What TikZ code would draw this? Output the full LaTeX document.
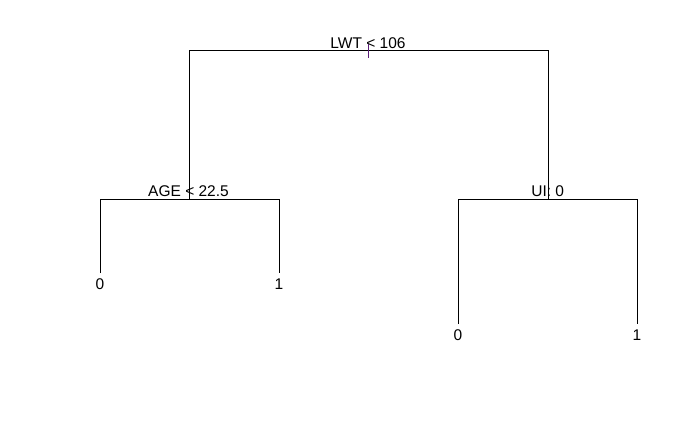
\documentclass[tikz,border=0pt]{standalone}
\usepackage{fontspec}
\setmainfont{Liberation Sans}
\definecolor{tickpurple}{RGB}{90,30,120}
\begin{document}
\begin{tikzpicture}[x=1pt,y=-1pt,
  edge/.style={line width=1pt,black},
  lbl/.style={anchor=base,inner sep=0pt,font=\fontsize{15.5}{18}\selectfont}]
\useasboundingbox (0,0) rectangle (700,432);
% labels
\node[lbl] (lroot) at (368,48.3) {LWT < 106};
\node[lbl] (lage) at (188.5,196.7) {AGE < 22.5};
\node[lbl] (lui) at (547.7,196.7) {UI: 0};
% junction coordinates
\coordinate (rtop) at (368,44);
\coordinate (rbot) at (368,58);
\coordinate (L) at (189,50);
\coordinate (R) at (548,50);
\coordinate (Lb) at (189,199);
\coordinate (Rb) at (548,199);
\coordinate (LL) at (100,199);
\coordinate (LR) at (279,199);
\coordinate (RL) at (458,199);
\coordinate (RR) at (637,199);
\coordinate (LLe) at (100,273);
\coordinate (LRe) at (279,273);
\coordinate (RLe) at (458,324);
\coordinate (RRe) at (637,324);
% leaves
\node[lbl] (leafA) at (100,289) {0};
\node[lbl] (leafB) at (279,289) {1};
\node[lbl] (leafC) at (458,340) {0};
\node[lbl] (leafD) at (637,340) {1};
% edges
\draw[edge] (Lb) -- (L) -- (R) -- (Rb);
\draw[edge] (LLe) -- (LL) -- (LR) -- (LRe);
\draw[edge] (RLe) -- (RL) -- (RR) -- (RRe);
\draw[line width=1pt,tickpurple] (rtop) -- (rbot);
\end{tikzpicture}
\end{document}
